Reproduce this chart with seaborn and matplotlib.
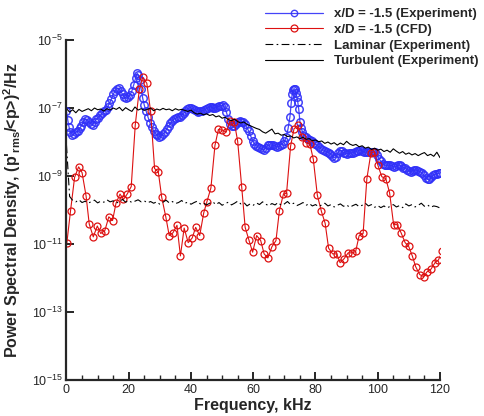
import numpy as np
import pandas as pd
import matplotlib
matplotlib.use("Agg")
import matplotlib.pyplot as plt
from matplotlib.ticker import MultipleLocator, NullLocator, LogFormatterSciNotation
import seaborn as sns

# ---- data (PSD given as log10 exponents) ----
exp_freq = [0.0, 0.4, 0.8, 1.2, 1.8, 2.4, 3.0, 3.6, 4.2, 4.8, 5.4, 6.0, 6.6, 7.2, 7.8,
            8.4, 9.0, 9.6, 10.2, 10.8, 11.4, 12.0, 12.6, 13.2, 13.8, 14.4, 15.0, 15.6,
            16.2, 16.8, 17.4, 18.0, 18.6, 19.2, 19.8, 20.4, 21.0, 21.6, 22.2, 22.7,
            23.1, 23.5, 24.0, 24.5, 25.0, 25.6, 26.2, 26.8, 27.4, 28.0, 28.6, 29.2,
            29.8, 30.4, 31.0, 31.6, 32.2, 32.8, 33.4, 34.0, 34.6, 35.2, 35.8, 36.4,
            37.0, 37.6, 38.2, 38.8, 39.4, 40.0, 40.6, 41.2, 41.8, 42.4, 43.0, 43.6,
            44.2, 44.8, 45.4, 46.0, 46.6, 47.2, 47.8, 48.4, 49.0, 49.6, 50.2, 50.8,
            51.4, 52.0, 52.6, 53.2, 53.8, 54.4, 55.0, 55.6, 56.2, 56.8, 57.4, 58.0,
            58.6, 59.2, 59.8, 60.4, 61.0, 61.6, 62.2, 62.8, 63.4, 64.0, 64.6, 65.2,
            65.8, 66.4, 67.0, 67.6, 68.2, 68.8, 69.4, 70.0, 70.6, 71.2, 71.8, 72.2,
            72.5, 72.8, 73.1, 73.4, 73.7, 74.0, 74.3, 74.6, 75.0, 75.4, 75.8, 76.4,
            77.0, 77.6, 78.2, 78.8, 79.4, 80.0, 80.6, 81.2, 81.8, 82.4, 83.0, 83.6,
            84.2, 84.8, 85.4, 86.0, 86.6, 87.2, 87.8, 88.4, 89.0, 89.6, 90.2, 90.8,
            91.4, 92.0, 92.6, 93.2, 93.8, 94.4, 95.0, 95.6, 96.2, 96.8, 97.4, 98.0,
            98.6, 99.2, 99.8, 100.4, 101.0, 101.6, 102.2, 102.8, 103.4, 104.0, 104.6,
            105.2, 105.8, 106.4, 107.0, 107.6, 108.2, 108.8, 109.4, 110.0, 110.6,
            111.2, 111.8, 112.4, 113.0, 113.6, 114.2, 114.8, 115.4, 116.0, 116.6,
            117.2, 117.8, 118.4, 119.0, 119.6, 120.0]
exp_log_psd = [-7.10, -7.35, -7.55, -7.70, -7.79, -7.76, -7.72, -7.68, -7.60, -7.52,
               -7.42, -7.32, -7.34, -7.41, -7.47, -7.49, -7.40, -7.33, -7.28, -7.22,
               -7.16, -7.10, -7.05, -6.97, -6.86, -6.74, -6.60, -6.49, -6.43, -6.42,
               -6.50, -6.60, -6.68, -6.72, -6.68, -6.62, -6.50, -6.32, -6.12, -5.98,
               -6.03, -6.18, -6.45, -6.72, -6.92, -7.10, -7.27, -7.43, -7.56, -7.67,
               -7.75, -7.80, -7.84, -7.82, -7.77, -7.71, -7.62, -7.53, -7.45, -7.38,
               -7.32, -7.29, -7.27, -7.25, -7.21, -7.16, -7.10, -7.04, -6.99, -6.99,
               -7.03, -7.06, -7.09, -7.11, -7.10, -7.08, -7.06, -7.03, -6.99, -6.96,
               -6.98, -7.01, -7.00, -6.97, -6.95, -6.93, -6.91, -6.98, -7.13, -7.32,
               -7.47, -7.54, -7.53, -7.46, -7.41, -7.39, -7.40, -7.41, -7.48, -7.58,
               -7.69, -7.83, -7.96, -8.05, -8.11, -8.14, -8.18, -8.22, -8.23, -8.17,
               -8.10, -8.08, -8.09, -8.09, -8.11, -8.14, -8.13, -8.08, -8.05, -7.98,
               -7.86, -7.60, -7.25, -6.85, -6.60, -6.46, -6.43, -6.45, -6.55, -6.67,
               -6.82, -7.02, -7.40, -7.58, -7.70, -7.81, -7.86, -7.90, -7.94, -7.98,
               -8.03, -8.07, -8.10, -8.15, -8.20, -8.23, -8.26, -8.29, -8.31, -8.34,
               -8.40, -8.46, -8.44, -8.32, -8.25, -8.27, -8.31, -8.33, -8.34, -8.33,
               -8.33, -8.31, -8.29, -8.27, -8.25, -8.24, -8.26, -8.29, -8.30, -8.29,
               -8.28, -8.29, -8.28, -8.30, -8.39, -8.49, -8.57, -8.64, -8.68, -8.69,
               -8.68, -8.68, -8.70, -8.73, -8.72, -8.69, -8.68, -8.71, -8.75, -8.77,
               -8.81, -8.85, -8.87, -8.84, -8.82, -8.83, -8.85, -8.87, -8.92, -8.98,
               -9.05, -9.10, -9.10, -9.02, -8.97, -8.95, -8.93, -8.92, -8.91]

cfd_freq = [0.1, 1.3, 2.6, 3.9, 5.0, 6.3, 7.3, 8.6, 9.9, 11.0, 12.3, 13.6, 14.8, 15.9,
            17.2, 18.3, 19.5, 20.8, 22.1, 23.4, 24.5, 25.8, 27.0, 28.3, 29.5, 30.6,
            31.9, 33.0, 34.2, 35.5, 36.6, 37.8, 39.1, 40.4, 41.5, 42.8, 44.1, 45.1,
            46.4, 47.7, 48.8, 50.1, 51.3, 52.6, 53.9, 55.0, 56.3, 57.4, 58.6, 59.8,
            61.1, 62.4, 63.5, 64.7, 66.0, 67.3, 68.4, 69.7, 70.7, 72.0, 73.1, 74.4,
            75.7, 76.9, 78.2, 79.3, 80.6, 81.9, 83.1, 84.2, 85.5, 86.8, 87.9, 89.2,
            90.5, 91.8, 92.9, 94.0, 95.3, 96.5, 97.8, 98.9, 100.0, 101.3, 102.6,
            103.8, 105.1, 106.2, 107.5, 108.8, 109.9, 111.1, 112.2, 113.5, 114.8,
            115.8, 117.1, 118.4, 119.5, 120.7]
cfd_log_psd = [-10.98, -10.02, -9.04, -8.73, -8.90, -9.59, -10.41, -10.79, -10.47,
               -10.69, -10.61, -10.20, -10.31, -9.80, -9.53, -9.69, -9.53, -9.31,
               -7.49, -6.45, -6.10, -6.27, -7.08, -8.78, -8.88, -9.63, -10.20, -10.75,
               -10.67, -10.45, -11.35, -10.53, -10.96, -10.82, -10.51, -10.75, -10.08,
               -9.76, -9.35, -8.10, -7.63, -7.65, -7.71, -7.37, -7.41, -7.98, -9.33,
               -10.51, -10.88, -11.24, -10.75, -10.90, -11.29, -11.41, -11.08, -10.90,
               -10.02, -9.53, -9.51, -8.12, -7.61, -7.51, -7.86, -8.02, -8.06, -8.51,
               -9.57, -10.04, -10.39, -11.12, -11.29, -11.29, -11.55, -11.43, -11.26,
               -11.26, -11.22, -10.76, -10.69, -9.08, -8.33, -8.29, -8.67, -9.02,
               -9.08, -9.49, -10.43, -10.43, -10.67, -10.96, -11.06, -11.35, -11.67,
               -11.90, -11.96, -11.82, -11.74, -11.55, -11.47, -11.22]

ref_freq = list(range(0, 121))
laminar_log_psd = [-8.10, -9.60, -9.72, -9.76, -9.70, -9.78, -9.74, -9.80, -9.75, -9.71,
                   -9.79, -9.74, -9.77, -9.70, -9.76, -9.73, -9.80, -9.74, -9.69, -9.77,
                   -9.72, -9.78, -9.74, -9.70, -9.76, -9.73, -9.79, -9.75, -9.80, -9.76,
                   -9.83, -9.77, -9.71, -9.79, -9.75, -9.81, -9.78, -9.72, -9.80, -9.77,
                   -9.83, -9.78, -9.74, -9.82, -9.79, -9.85, -9.80, -9.76, -9.84, -9.78,
                   -9.86, -9.81, -9.77, -9.85, -9.80, -9.74, -9.82, -9.78, -9.88, -9.82,
                   -9.86, -9.79, -9.84, -9.76, -9.83, -9.87, -9.81, -9.85, -9.78, -9.86,
                   -9.82, -9.75, -9.84, -9.80, -9.87, -9.83, -9.78, -9.86, -9.81, -9.88,
                   -9.84, -9.90, -9.85, -9.80, -9.88, -9.84, -9.91, -9.86, -9.82, -9.89,
                   -9.85, -9.92, -9.87, -9.83, -9.90, -9.86, -9.80, -9.88, -9.84, -9.92,
                   -9.87, -9.93, -9.88, -9.94, -9.89, -9.84, -9.91, -9.87, -9.93, -9.82,
                   -9.88, -9.84, -9.91, -9.86, -9.80, -9.89, -9.85, -9.92, -9.88, -9.90,
                   -9.94]
turbulent_log_psd = [-7.02, -7.12, -7.05, -7.14, -7.04, -7.10, -7.06, -7.02, -7.08, -7.00,
                     -7.05, -7.03, -7.09, -7.02, -7.06, -7.00, -7.04, -6.98, -7.08, -6.99,
                     -7.05, -7.10, -6.97, -7.06, -7.02, -7.07, -7.04, -7.00, -7.08, -7.03,
                     -7.06, -7.01, -7.05, -7.03, -7.08, -7.02, -7.06, -7.04, -7.07, -7.10,
                     -7.06, -7.14, -7.18, -7.15, -7.20, -7.17, -7.22, -7.19, -7.26, -7.23,
                     -7.30, -7.27, -7.34, -7.37, -7.33, -7.40, -7.44, -7.41, -7.48, -7.52,
                     -7.56, -7.60, -7.63, -7.70, -7.74, -7.68, -7.62, -7.76, -7.74, -7.80,
                     -7.78, -7.84, -7.82, -7.88, -7.85, -7.90, -7.86, -7.92, -7.90, -7.96,
                     -7.94, -7.99, -7.97, -8.04, -8.00, -8.06, -8.02, -8.09, -8.03, -8.08,
                     -7.98, -8.06, -8.10, -8.07, -8.14, -8.11, -8.18, -8.15, -8.22, -8.18,
                     -8.24, -8.21, -8.28, -8.24, -8.30, -8.20, -8.27, -8.33, -8.28, -8.36,
                     -8.32, -8.38, -8.34, -8.40, -8.35, -8.31, -8.40, -8.36, -8.42, -8.30,
                     -8.46]

series_labels = ["x/D = -1.5 (Experiment)", "x/D = -1.5 (CFD)",
                 "Laminar (Experiment)", "Turbulent (Experiment)"]

# ---- style ----
sns.set_style("ticks")
plt.rcParams["font.family"] = ["Liberation Sans", "DejaVu Sans"]
plt.rcParams["mathtext.fontset"] = "custom"
plt.rcParams["mathtext.rm"] = "Liberation Sans"
plt.rcParams["mathtext.it"] = "Liberation Sans:italic"
plt.rcParams["mathtext.bf"] = "Liberation Sans:bold"

fig = plt.figure(figsize=(4.85, 4.16), dpi=100)
ax = fig.add_axes([0.1371, 0.0865, 0.7701, 0.8173])

blue = "#3030f8"
red = "#dd1111"

sns.lineplot(x=np.array(exp_freq), y=10.0 ** np.array(exp_log_psd), ax=ax,
             color=blue, lw=0.9, marker="o", markersize=5.4, markerfacecolor="none",
             markeredgecolor=blue, markeredgewidth=1.1, alpha=0.9,
             label=series_labels[0], estimator=None, sort=False)
sns.lineplot(x=np.array(cfd_freq), y=10.0 ** np.array(cfd_log_psd), ax=ax,
             color=red, lw=0.8, marker="o", markersize=5.0, markerfacecolor="none",
             markeredgecolor=red, markeredgewidth=0.9, label=series_labels[1],
             estimator=None, sort=False)
sns.lineplot(x=np.array(ref_freq), y=10.0 ** np.array(laminar_log_psd), ax=ax,
             color="black", lw=0.8, linestyle=(0, (7, 3, 1.5, 3)),
             label=series_labels[2], estimator=None, sort=False)
sns.lineplot(x=np.array(ref_freq), y=10.0 ** np.array(turbulent_log_psd), ax=ax,
             color="black", lw=0.8, label=series_labels[3], estimator=None, sort=False)

ax.set_yscale("log")
ax.set_xlim(0, 120)
ax.set_ylim(1e-15, 1e-5)
ax.set_yticks([1e-15, 1e-13, 1e-11, 1e-9, 1e-7, 1e-5])
ax.yaxis.set_minor_locator(NullLocator())
ax.yaxis.set_major_formatter(LogFormatterSciNotation())
ax.xaxis.set_major_locator(MultipleLocator(20))
ax.xaxis.set_minor_locator(MultipleLocator(5))

for side in ("top", "right"):
    ax.spines[side].set_visible(False)
for side in ("left", "bottom"):
    ax.spines[side].set_linewidth(1.6)

ax.tick_params(axis="both", which="major", direction="in", length=6, width=1.4,
               labelsize=9, pad=3)
ax.tick_params(axis="x", which="minor", direction="in", length=3.5, width=1.0)

ax.set_xlabel("Frequency, kHz", fontsize=11.5, fontweight="bold", labelpad=1)
ax.set_ylabel(r"Power Spectral Density, (p$\mathbf{'_{rms}}$/<p>)$\mathbf{^2}$/Hz",
              fontsize=11.5, fontweight="bold", labelpad=6)

handles, labels = ax.get_legend_handles_labels()
ax.get_legend().remove()
leg = fig.legend(handles, labels, loc="upper left",
                 bbox_to_anchor=(265 / 485, 1 - 8 / 416),
                 frameon=False, numpoints=1, handlelength=4.4, handletextpad=0.8,
                 labelspacing=0.26, borderpad=0, borderaxespad=0,
                 prop={"weight": "bold", "size": 9.5})
# keep the legend circle for the experiment series the same size as the CFD one
leg.legend_handles[0].set_markersize(4.6)
leg.legend_handles[0].set_markeredgewidth(1.0)

fig.savefig("out.png", dpi=100)
